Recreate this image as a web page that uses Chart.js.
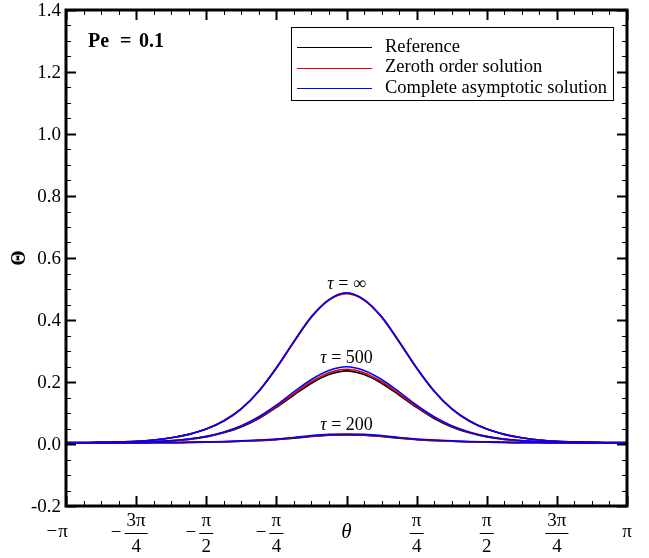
<!DOCTYPE html>
<html lang="en">
  <head>
    <meta charset="UTF-8" />
    <title>Pe = 0.1 temperature profiles</title>
    <script src="https://cdn.jsdelivr.net/npm/chart.js"></script>
    <style>
      html, body { margin: 0; padding: 0; background: #fff; }
      #chartContainer { width: 649px; height: 558px; }
    </style>
  </head>
  <body>
    <div id="chartContainer">
      <canvas id="myChart"></canvas>
    </div>
    <script>
      // theta sample points, in units of pi
      const thetaOverPi = [
        -1, -0.9375, -0.875, -0.8125, -0.75, -0.6875, -0.625, -0.5625, -0.5,
        -0.4375, -0.375, -0.3125, -0.25, -0.1875, -0.125, -0.0625, 0,
        0.0625, 0.125, 0.1875, 0.25, 0.3125, 0.375, 0.4375, 0.5,
        0.5625, 0.625, 0.6875, 0.75, 0.8125, 0.875, 0.9375, 1
      ];

      // tau = infinity
      const infRef = [0.005,0.005,0.006,0.007,0.009,0.013,0.020,0.031,0.048,0.074,0.113,0.170,0.245,0.330,0.410,0.465,0.487,0.465,0.410,0.330,0.245,0.170,0.113,0.074,0.048,0.031,0.020,0.013,0.009,0.007,0.006,0.005,0.005];
      const infZero = [0.005,0.005,0.006,0.007,0.009,0.013,0.020,0.031,0.048,0.074,0.113,0.170,0.244,0.329,0.409,0.464,0.485,0.464,0.409,0.329,0.244,0.170,0.113,0.074,0.048,0.031,0.020,0.013,0.009,0.007,0.006,0.005,0.005];
      const infFull = [0.005,0.005,0.006,0.007,0.009,0.013,0.020,0.031,0.048,0.075,0.114,0.171,0.246,0.331,0.411,0.466,0.488,0.466,0.411,0.331,0.246,0.171,0.114,0.075,0.048,0.031,0.020,0.013,0.009,0.007,0.006,0.005,0.005];

      // tau = 500
      const t500Ref = [0.003,0.003,0.003,0.004,0.005,0.007,0.010,0.015,0.023,0.036,0.055,0.082,0.118,0.158,0.196,0.224,0.236,0.224,0.196,0.158,0.118,0.082,0.055,0.036,0.023,0.015,0.010,0.007,0.005,0.004,0.003,0.003,0.003];
      const t500Zero = [0.003,0.003,0.003,0.004,0.005,0.007,0.010,0.015,0.024,0.037,0.057,0.085,0.121,0.162,0.201,0.230,0.241,0.230,0.201,0.162,0.121,0.085,0.057,0.037,0.024,0.015,0.010,0.007,0.005,0.004,0.003,0.003,0.003];
      const t500Full = [0.004,0.004,0.004,0.005,0.006,0.008,0.011,0.016,0.025,0.039,0.059,0.088,0.125,0.168,0.208,0.237,0.249,0.237,0.208,0.168,0.125,0.088,0.059,0.039,0.025,0.016,0.011,0.008,0.006,0.005,0.004,0.004,0.004];

      // tau = 200
      const t200Ref = [0.003,0.003,0.003,0.003,0.003,0.004,0.004,0.005,0.006,0.007,0.009,0.011,0.014,0.019,0.024,0.028,0.029,0.028,0.024,0.019,0.014,0.011,0.009,0.007,0.006,0.005,0.004,0.004,0.003,0.003,0.003,0.003,0.003];
      const t200Zero = [0.003,0.003,0.003,0.003,0.003,0.004,0.004,0.005,0.006,0.007,0.009,0.012,0.015,0.020,0.025,0.029,0.030,0.029,0.025,0.020,0.015,0.012,0.009,0.007,0.006,0.005,0.004,0.004,0.003,0.003,0.003,0.003,0.003];
      const t200Full = [0.004,0.004,0.004,0.004,0.004,0.005,0.005,0.006,0.007,0.008,0.010,0.013,0.016,0.021,0.027,0.031,0.032,0.031,0.027,0.021,0.016,0.013,0.010,0.008,0.007,0.006,0.005,0.005,0.004,0.004,0.004,0.004,0.004];

      const seriesNames = ["Reference", "Zeroth order solution", "Complete asymptotic solution"];
      const seriesColors = ["#000000", "#e00000", "#0000ff"];

      // tick labels
      const yTickValues = [-0.2, 0.0, 0.2, 0.4, 0.6, 0.8, 1.0, 1.2, 1.4];
      const yTickLabels = ["-0.2", "0.0", "0.2", "0.4", "0.6", "0.8", "1.0", "1.2", "1.4"];
      const xTickValues = [-1, -0.75, -0.5, -0.25, 0.25, 0.5, 0.75, 1]; // units of pi
      const xTickSign = ["−", "−", "−", "−", "", "", "", ""];
      const xTickNum = ["π", "3π", "π", "π", "π", "π", "3π", "π"];
      const xTickDen = ["", "4", "2", "4", "4", "2", "4", ""];

      const curveValues = ["∞", "500", "200"];
      const curveLabelY = [0.515, 0.275, 0.06];

      const SERIF = "'Liberation Serif', 'DejaVu Serif', serif";

      function pts(values) {
        return values.map((v, i) => ({ x: thetaOverPi[i] * Math.PI, y: v }));
      }

      function line(values, idx) {
        return {
          label: seriesNames[idx],
          data: pts(values),
          borderColor: seriesColors[idx],
          borderWidth: 1.6,
          pointRadius: 0,
          fill: false,
          cubicInterpolationMode: "monotone",
        };
      }

      // Chart.js paints the first dataset last, so blue goes first to sit on top
      const datasets = [
        line(infFull, 2), line(t500Full, 2), line(t200Full, 2),
        line(infZero, 1), line(t500Zero, 1), line(t200Zero, 1),
        line(infRef, 0), line(t500Ref, 0), line(t200Ref, 0),
      ];

      const decorations = {
        id: "decorations",
        afterDraw(chart) {
          const { ctx, chartArea: a, scales } = chart;
          const x = scales.x, y = scales.y;
          ctx.save();
          ctx.strokeStyle = "#000";
          ctx.fillStyle = "#000";

          // y ticks, major every 0.2 and minor every 0.05
          for (let i = 0; i <= 32; i++) {
            const v = -0.2 + i * 0.05;
            const py = Math.round(y.getPixelForValue(v)) + 0.5;
            const major = i % 4 === 0;
            const len = major ? 10 : 5;
            ctx.lineWidth = major ? 2 : 1;
            ctx.beginPath();
            ctx.moveTo(a.left, py); ctx.lineTo(a.left + len, py);
            ctx.moveTo(a.right, py); ctx.lineTo(a.right - len, py);
            ctx.stroke();
          }
          // x ticks, major every pi/4 and minor every pi/16
          for (let i = 0; i <= 32; i++) {
            const v = (-1 + i / 16) * Math.PI;
            const px = Math.round(x.getPixelForValue(v)) + 0.5;
            const major = i % 4 === 0;
            const len = major ? 10 : 5;
            ctx.lineWidth = major ? 2 : 1;
            ctx.beginPath();
            ctx.moveTo(px, a.bottom); ctx.lineTo(px, a.bottom - len);
            ctx.moveTo(px, a.top); ctx.lineTo(px, a.top + len);
            ctx.stroke();
          }

          // frame
          ctx.lineWidth = 3;
          ctx.strokeRect(a.left, a.top, a.right - a.left, a.bottom - a.top);

          // y tick labels
          ctx.font = "19px " + SERIF;
          ctx.textAlign = "right";
          ctx.textBaseline = "middle";
          yTickValues.forEach((v, i) => {
            ctx.fillText(yTickLabels[i], a.left - 5, y.getPixelForValue(v) + 1);
          });

          // x tick labels (fractions)
          ctx.textAlign = "center";
          xTickValues.forEach((v, i) => {
            const px = x.getPixelForValue(v * Math.PI);
            ctx.font = "19px " + SERIF;
            if (xTickDen[i] === "") {
              const off = i === 0 ? -3 : 0;
              ctx.fillText(xTickNum[i], px + off, 532);
              if (xTickSign[i]) {
                const w = ctx.measureText(xTickNum[i]).width;
                ctx.textAlign = "right";
                ctx.fillText(xTickSign[i], px + off - w / 2 - 1, 532);
                ctx.textAlign = "center";
              }
            } else {
              const wNum = ctx.measureText(xTickNum[i]).width;
              const barW = Math.max(wNum, 10) + 4;
              ctx.fillText(xTickNum[i], px, 521);
              ctx.fillText(xTickDen[i], px, 547);
              ctx.lineWidth = 1;
              ctx.beginPath();
              ctx.moveTo(px - barW / 2, 533.5);
              ctx.lineTo(px + barW / 2, 533.5);
              ctx.stroke();
              if (xTickSign[i]) {
                ctx.textAlign = "right";
                ctx.fillText(xTickSign[i], px - barW / 2 - 3, 533);
                ctx.textAlign = "center";
              }
            }
          });

          // axis titles
          ctx.font = "italic 21px " + SERIF;
          ctx.fillText("θ", x.getPixelForValue(0), 532);
          ctx.save();
          ctx.translate(20, y.getPixelForValue(0.6));
          ctx.rotate(-Math.PI / 2);
          ctx.font = "bold 20px " + SERIF;
          ctx.fillText("Θ", 0, 0);
          ctx.restore();

          // curve labels: italic tau, upright "= value"
          curveValues.forEach((val, i) => {
            const cx = x.getPixelForValue(0);
            const cy = y.getPixelForValue(curveLabelY[i]);
            ctx.font = "italic 18px " + SERIF;
            const wT = ctx.measureText("τ").width;
            ctx.font = "18px " + SERIF;
            const rest = " = " + val;
            const wR = ctx.measureText(rest).width;
            const x0 = cx - (wT + wR) / 2;
            ctx.textAlign = "left";
            ctx.font = "italic 18px " + SERIF;
            ctx.fillText("τ", x0, cy);
            ctx.font = "18px " + SERIF;
            ctx.fillText(rest, x0 + wT, cy);
          });

          // Pe label
          ctx.textAlign = "left";
          ctx.font = "bold 20px " + SERIF;
          ctx.fillText("Pe", a.left + 22, a.top + 32);
          ctx.fillText("=", a.left + 54, a.top + 32);
          ctx.fillText("0.1", a.left + 73, a.top + 32);

          // legend
          const lx = a.right - 336, ly = a.top + 17;
          ctx.lineWidth = 1;
          ctx.strokeStyle = "#000";
          ctx.strokeRect(lx + 0.5, ly + 0.5, 322, 73);
          ctx.font = "18.5px " + SERIF;
          seriesNames.forEach((name, i) => {
            const ry = ly + 20 + i * 20.5;
            ctx.strokeStyle = seriesColors[i];
            ctx.lineWidth = 1;
            ctx.beginPath();
            ctx.moveTo(lx + 6, Math.round(ry) + 0.5);
            ctx.lineTo(lx + 81, Math.round(ry) + 0.5);
            ctx.stroke();
            ctx.fillText(name, lx + 94, ry);
          });
          ctx.restore();
        },
      };

      const ctx = document.getElementById("myChart").getContext("2d");
      new Chart(ctx, {
        type: "line",
        data: { datasets: datasets },
        options: {
          responsive: true,
          maintainAspectRatio: false,
          animation: false,
          layout: { padding: { left: 66, right: 22, top: 10, bottom: 52 } },
          scales: {
            x: { type: "linear", min: -Math.PI, max: Math.PI, display: false },
            y: { type: "linear", min: -0.2, max: 1.4, display: false },
          },
          plugins: {
            legend: { display: false },
            tooltip: { enabled: false },
          },
        },
        plugins: [decorations],
      });
    </script>
  </body>
</html>
